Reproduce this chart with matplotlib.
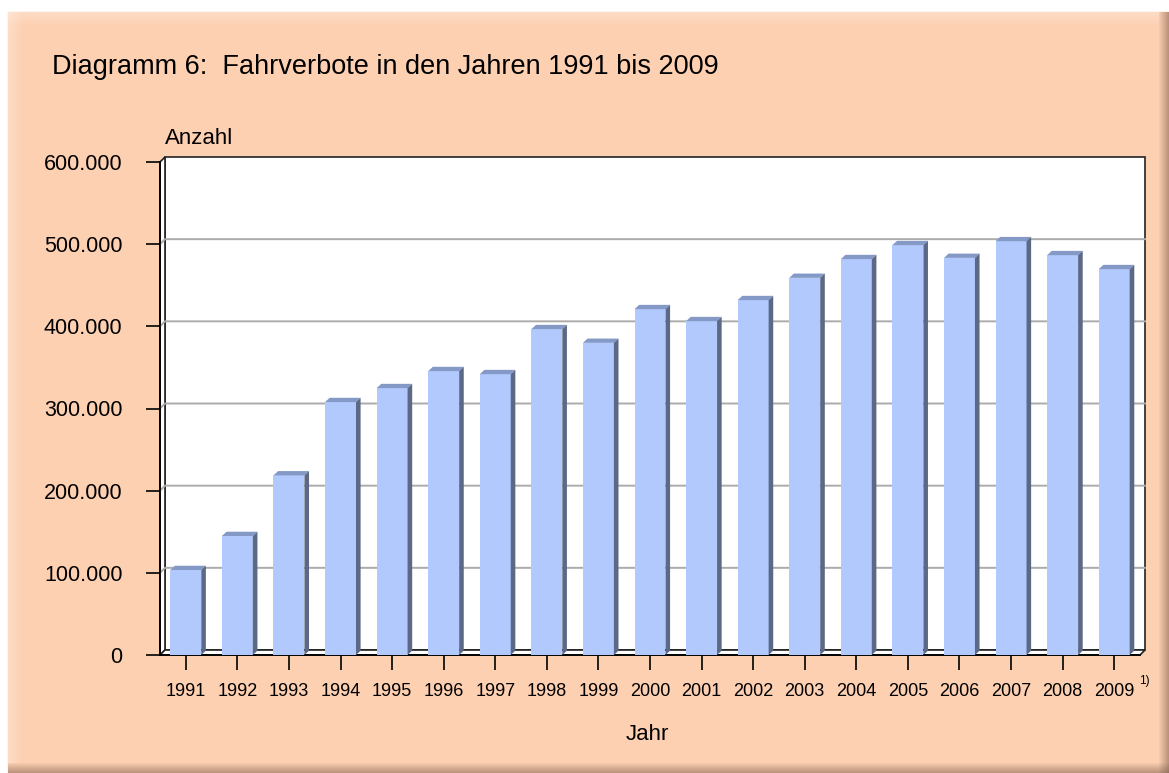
import matplotlib
matplotlib.use("Agg")
import matplotlib.pyplot as plt
from matplotlib.patches import Rectangle, Polygon
from matplotlib.ticker import FuncFormatter
import numpy as np

plt.rcParams['font.family'] = ['Liberation Sans', 'DejaVu Sans']

# ---- data ----
years = ["1991", "1992", "1993", "1994", "1995", "1996", "1997", "1998", "1999", "2000",
         "2001", "2002", "2003", "2004", "2005", "2006", "2007", "2008", "2009"]
values = [103400, 144800, 218600, 307800, 324800, 345500, 341800, 396600, 379900, 420900,
          406300, 431900, 459000, 481800, 498800, 483300, 503600, 486600, 469600]
yticks = [0, 100000, 200000, 300000, 400000, 500000, 600000]
title = "Diagramm 6:  Fahrverbote in den Jahren 1991 bis 2009"
ylabel = "Anzahl"
xlabel = "Jahr"
footnote = "1)"

W, H = 1169, 773
fig = plt.figure(figsize=(W / 100, H / 100), dpi=100)

# ---- background panel (pixel coordinates) ----
bg = fig.add_axes([0, 0, 1, 1], zorder=-10)
bg.set_xlim(0, W)
bg.set_ylim(H, 0)
bg.axis('off')
peach = '#FDD0B2'
bg.add_patch(Rectangle((0, 0), W, H, color='white'))
bg.add_patch(Rectangle((8, 12), W - 8, H - 12, color=peach))
# light glow at top/left
for i in range(14):
    a = 0.25 * (1 - i / 14)
    bg.add_patch(Rectangle((8, 12 + i), W - 8 - 10, 1, color='white', alpha=a, lw=0))
    bg.add_patch(Rectangle((8 + i, 12), 1, H - 12 - 10, color='white', alpha=a, lw=0))
# dark shadow at right/bottom
for i in range(10):
    a = 0.06 + 0.05 * i
    bg.add_patch(Rectangle((W - 10 + i, 12), 1, H - 12, color='#7A5A48', alpha=min(a, 0.6), lw=0))
    bg.add_patch(Rectangle((8, H - 10 + i), W - 8, 1, color='#7A5A48', alpha=min(a, 0.6), lw=0))

# ---- main axes ----
L, R, B, T = 160, 1140, 655, 162
ax = fig.add_axes([L / W, 1 - B / H, (R - L) / W, (B - T) / H])
ax.patch.set_alpha(0)
n = len(years)
x = np.arange(n)
ax.set_xlim(-0.5, n - 0.5)
ax.set_ylim(0, 600000)
for s in ax.spines.values():
    s.set_visible(False)

ppx = (R - L) / n           # pixels per category
ppy = (B - T) / 600000      # pixels per value unit
dx = 5 / ppx
dy = 5 / ppy
bdx = 4.6 / ppx
bdy = 4.3 / ppy

x0, x1 = -0.5, n - 0.5
ymax = 600000
kw = dict(clip_on=False)
# back wall
ax.add_patch(Rectangle((x0 + dx, dy), x1 - x0, ymax, facecolor='white', edgecolor='#222222', lw=1.2, zorder=0, **kw))
# side wall
ax.add_patch(Polygon([(x0, 0), (x0, ymax), (x0 + dx, ymax + dy), (x0 + dx, dy)], closed=True,
                     facecolor='white', edgecolor='#222222', lw=1.2, zorder=0.5, **kw))
# floor
ax.add_patch(Polygon([(x0, 0), (x1, 0), (x1 + dx, dy), (x0 + dx, dy)], closed=True,
                     facecolor='white', edgecolor='#222222', lw=1.2, zorder=0.5, **kw))
# gridlines
for v in yticks[1:-1]:
    ax.plot([x0, x0 + dx, x1 + dx], [v, v + dy, v + dy], color='#ABABAB', lw=1.4, zorder=0.8, **kw)
# front axis line
ax.plot([x0, x0], [0, ymax], color='black', lw=1.3, zorder=3, **kw)
ax.plot([x0, x1], [0, 0], color='black', lw=1.3, zorder=1, **kw)

# bars
front_c = '#B1C9FD'
top_c = '#8599C6'
side_c = '#5B6886'
bw = 0.6
ax.bar(x, values, width=bw, color=front_c, zorder=2, edgecolor='none')
for xi, v in zip(x, values):
    xl, xr = xi - bw / 2, xi + bw / 2
    ax.add_patch(Polygon([(xl, v), (xr, v), (xr + bdx, v + bdy), (xl + bdx, v + bdy)], closed=True,
                         facecolor=top_c, edgecolor='none', zorder=2))
    ax.add_patch(Polygon([(xr, 0), (xr, v), (xr + bdx, v + bdy), (xr + bdx, bdy)], closed=True,
                         facecolor=side_c, edgecolor='none', zorder=2))

# ticks
ax.set_yticks(yticks)
ax.yaxis.set_major_formatter(FuncFormatter(lambda v, p: f"{v:,.0f}".replace(",", ".")))
ax.set_xticks(x)
ax.set_xticklabels(years)
ax.tick_params(axis='y', direction='out', length=10, width=1.2, pad=17, labelsize=15.5, colors='black')
ax.tick_params(axis='x', direction='out', length=10.5, width=1.2, pad=9.5, labelsize=13, colors='black')

# texts
fig.text(52 / W, 1 - 67 / H, title, fontsize=19.5, ha='left', va='center')
fig.text(165 / W, 1 - 138 / H, ylabel, fontsize=16, ha='left', va='center')
fig.text(647 / W, 1 - 735 / H, xlabel, fontsize=16, ha='center', va='center')
fig.text(1139 / W, 1 - 681 / H, footnote, fontsize=8.5, ha='left', va='center')

fig.savefig("out.png", dpi=100)
